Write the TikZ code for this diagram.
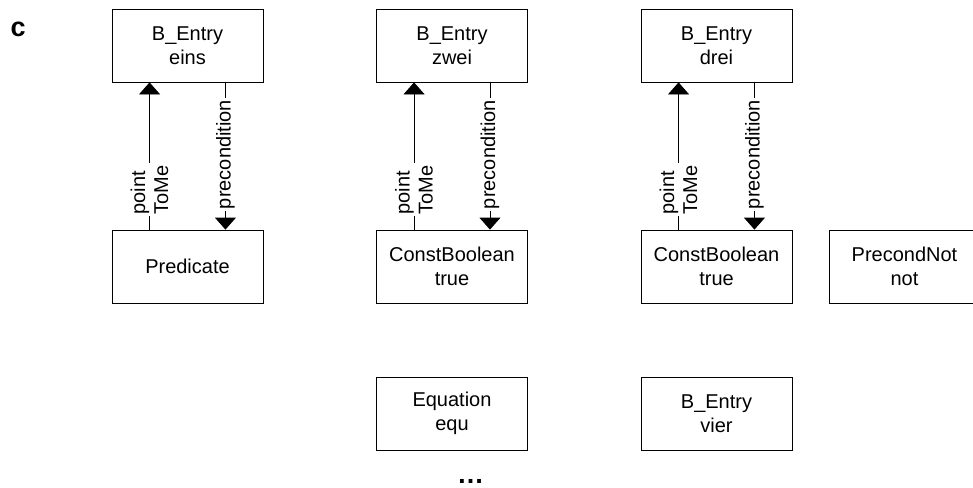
\documentclass[tikz,border=0pt]{standalone}
\usepackage{fontspec}
\setmainfont{Liberation Sans}
\usetikzlibrary{arrows.meta,calc}

\tikzset{
  obj/.style={draw=black, line width=0.8pt, minimum width=151pt, minimum height=73pt,
    inner sep=0pt, align=center, font=\fontsize{20}{24}\selectfont},
  link/.style={draw=black, line width=0.8pt, -{Triangle[width=21pt,length=12pt]}},
  rolename/.style={rotate=90, fill=white, inner sep=2pt, align=left,
    font=\fontsize{20}{23}\selectfont},
}

\begin{document}
\begin{tikzpicture}[x=1pt, y=-1pt]
  \useasboundingbox (0,0) rectangle (973,487);

  % panel letter
  \node[anchor=base west, inner sep=0pt, font=\fontsize{27}{30}\selectfont\bfseries] (tag) at (10.5,37) {c};

  % upper row: entries
  \node[obj] (e1) at (187.5,45.5) {B\_Entry\\eins};
  \node[obj] (e2) at (452,45.5)   {B\_Entry\\zwei};
  \node[obj] (e3) at (716.5,45.5) {B\_Entry\\drei};

  % middle row: conditions
  \node[obj] (pred) at (187.5,266.5) {Predicate};
  \node[obj] (cb1)  at (452,266.5)   {ConstBoolean\\true};
  \node[obj] (cb2)  at (716.5,266.5) {ConstBoolean\\true};
  \node[obj] (pnot) at (904.5,266.5) {PrecondNot\\not};

  % lower row
  \node[obj] (equ)  at (452,413.5)   {Equation\\equ};
  \node[obj] (vier) at (716.5,413.5) {B\_Entry\\vier};

  % continuation mark
  \node[anchor=base, inner sep=0pt, font=\fontsize{27}{30}\selectfont\bfseries] (more) at (470.5,483.5) {…};

  % links between entries and their conditions
  \foreach \up/\down in {e1/pred, e2/cb1, e3/cb2}{
    \draw[link] ($(\down.north west)!0.25!(\down.north east)$)
      -- ($(\up.south west)!0.25!(\up.south east)$)
      node[rolename, pos=0.27] {point\\ToMe};
    \draw[link] ($(\up.south west)!0.75!(\up.south east)$)
      -- ($(\down.north west)!0.75!(\down.north east)$)
      node[rolename, pos=0.49] {precondition};
  }
\end{tikzpicture}
\end{document}
